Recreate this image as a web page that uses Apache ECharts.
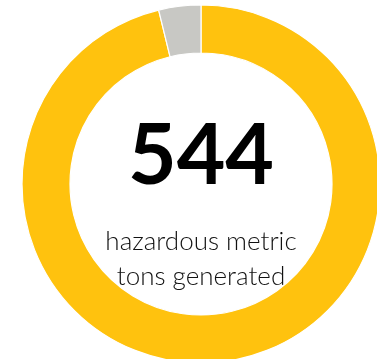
<!DOCTYPE html>
<html>
<head>
<meta charset="utf-8">
<script src="https://cdn.jsdelivr.net/npm/echarts@6/dist/echarts.min.js"></script>
<style>html,body{margin:0;padding:0;background:#fff;}#c{width:377px;height:359px;}</style>
</head>
<body>
<div id="c"></div>
<script>
const categories = ["Other", "Hazardous"];
const values = [96.2, 3.8];
const colors = ["#FFC20E", "#C8C8C4"];
const bigNumber = "544";
const captionLines = ["hazardous metric", "tons generated"];

const chart = echarts.init(document.getElementById('c'), null, {renderer: 'canvas'});
chart.setOption({
  animation: false,
  backgroundColor: '#ffffff',
  series: [{
    type: 'pie',
    center: [201, 184],
    radius: [131, 179],
    startAngle: 90,
    clockwise: true,
    label: {show: false},
    labelLine: {show: false},
    emphasis: {disabled: true},
    itemStyle: {borderColor: '#ffffff', borderWidth: 1.2},
    data: categories.map((n, i) => ({name: n, value: values[i], itemStyle: {color: colors[i]}}))
  }],
  graphic: [
    {type: 'text', x: 201, y: 157, style: {text: bigNumber, font: 'bold 84px Lato, "Open Sans", sans-serif', fill: '#000', align: 'center', verticalAlign: 'middle'}},
    {type: 'text', x: 201, y: 242, style: {text: captionLines[0], font: '300 26px Lato, "Open Sans", sans-serif', fill: '#111', align: 'center', verticalAlign: 'middle'}},
    {type: 'text', x: 201, y: 277, style: {text: captionLines[1], font: '300 26px Lato, "Open Sans", sans-serif', fill: '#111', align: 'center', verticalAlign: 'middle'}}
  ]
});
</script>
</body>
</html>
